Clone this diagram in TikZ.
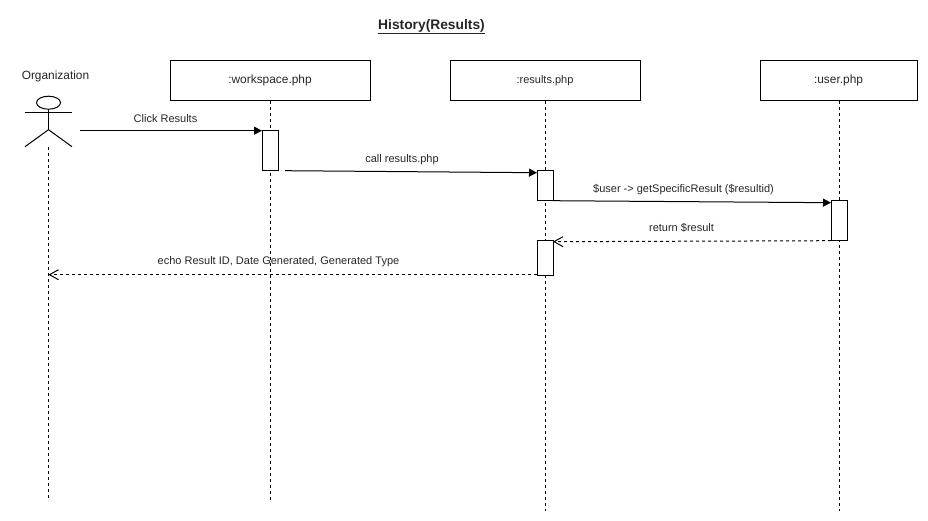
\documentclass[tikz,border=0pt]{standalone}
\usepackage{fontspec}
\setmainfont{Liberation Sans}
\usetikzlibrary{arrows.meta,shapes.geometric}
\tikzset{
  every node/.style={inner sep=0pt,outer sep=0pt},
  lbl/.style={font=\fontsize{11}{13}\selectfont,text=black!85},
  head/.style={draw,line width=1pt,minimum height=40pt,font=\fontsize{11.9}{14}\selectfont,text=black!85},
  act/.style={draw,fill=white,line width=1pt,minimum width=16pt},
  life/.style={line width=1pt,dash pattern=on 3pt off 3pt},
  msg/.style={line width=1pt,-{Triangle[length=8pt,width=8pt]}},
  ret/.style={line width=1pt,dash pattern=on 3pt off 3pt,-{Straight Barb[length=9pt,width=10pt]}},
  stick/.style={line width=1pt}
}
\begin{document}
\begin{tikzpicture}[x=1pt,y=-1pt]
\useasboundingbox (0,-0.7) rectangle (928,520.3);
\node[font=\bfseries\fontsize{13.8}{16}\selectfont,text=black!85] (title) at (431.5,26) {\underline{History(Results)}};
\node[font=\fontsize{11.9}{14}\selectfont,text=black!85] (orglabel) at (55.5,75.7) {Organization};
% heads
\node[head,minimum width=200pt] (ws) at (270,80) {:workspace.php};
\node[head,minimum width=190pt,font=\fontsize{11}{13}\selectfont] (rs) at (545,80) {:results.php};
\node[head,minimum width=157pt] (us) at (838.5,80) {:user.php};
% lifeline ends
\coordinate (orgfoot) at (48.5,146);
\coordinate (orgend) at (48.5,500);
\coordinate (wsend) at (270,500);
\coordinate (rsend) at (545.5,510);
\coordinate (usend) at (839,510);
\draw[life] (orgfoot) -- (orgend);
\draw[life] (ws.south) -- (wsend);
\draw[life] (rs.south) ++(0.5,0) -- (rsend);
\draw[life] (us.south) ++(0.5,0) -- (usend);
% actor
\node[draw,line width=1pt,ellipse,minimum width=24pt,minimum height=13pt] (ahead) at (48.5,102) {};
\coordinate (armL) at (25,112);
\coordinate (armR) at (72,112);
\coordinate (hip) at (48.5,129);
\coordinate (legL) at (25,146);
\coordinate (legR) at (72,146);
\draw[stick] (ahead.south) -- (hip);
\draw[stick] (armL) -- (armR);
\draw[stick] (legL) -- (hip) -- (legR);
% activations
\node[act,minimum height=40pt] (a1) at (270,150) {};
\node[act,minimum height=30pt] (a2) at (545,185) {};
\node[act,minimum height=40pt] (a3) at (839,220) {};
\node[act,minimum height=35pt] (a4) at (545,257.5) {};
% message ends
\coordinate (m1s) at (80,130);
\coordinate (m2s) at (285,170);
\coordinate (m2e) at (537,172);
\coordinate (m3s) at (553,200);
\coordinate (m3e) at (831,202);
\coordinate (m4e) at (553,241);
\coordinate (m5s) at (537,274);
\coordinate (m5e) at (48.5,274);
\draw[msg] (m1s) -- (a1.north west);
\draw[msg] (m2s) -- (m2e);
\draw[msg] (m3s) -- (m3e);
\draw[ret] (a3.south west) -- (m4e);
\draw[ret] (m5s) -- (m5e);
% labels
\node[lbl] (l1) at (165.5,118) {Click Results};
\node[lbl] (l2) at (402,159) {call results.php};
\node[lbl] (l3) at (683.5,189) {\$user -> getSpecificResult (\$resultid)};
\node[lbl] (l4) at (681.5,227) {return \$result};
\node[lbl] (l5) at (278.5,260.5) {echo Result ID, Date Generated, Generated Type};
\end{tikzpicture}
\end{document}
